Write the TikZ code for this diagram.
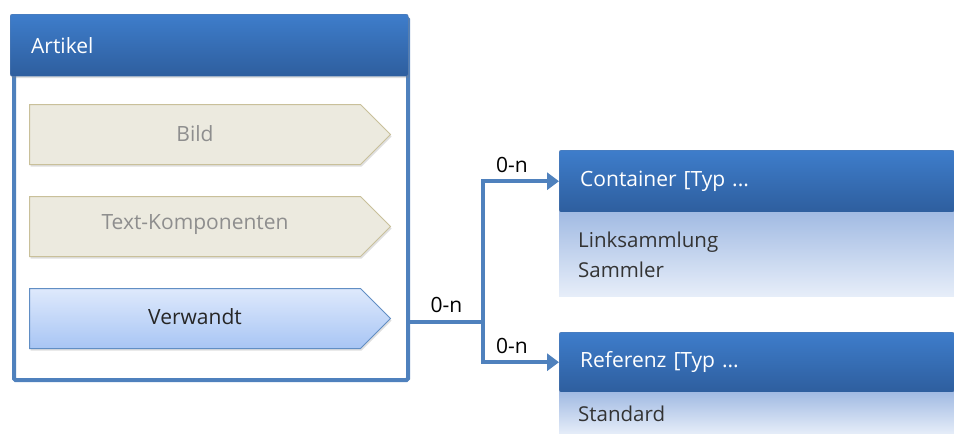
\documentclass[tikz,border=0pt]{standalone}
\usepackage{fontspec}
\setmainfont{Open Sans}
\usetikzlibrary{positioning,shapes.symbols,arrows.meta,shadows}

\definecolor{frameblue}{HTML}{4F81BD}
\definecolor{headtop}{HTML}{3E7DCB}
\definecolor{headbot}{HTML}{2E5E9E}
\definecolor{beigefill}{HTML}{ECEADF}
\definecolor{beigeline}{HTML}{C9C09A}
\definecolor{greytext}{HTML}{8E8E8E}
\definecolor{seltop}{HTML}{DEE9FC}
\definecolor{selbot}{HTML}{A8C5F4}
\definecolor{bodytop}{HTML}{A2BBE3}
\definecolor{bodybot}{HTML}{E7EEF9}

\begin{document}
\begin{tikzpicture}[
    x=1pt, y=-1pt,
    frame/.style={
        draw = frameblue,
        line width = 4pt,
        fill = white,
        rounded corners = 1.5pt,
        minimum width = 394pt,
        minimum height = 362pt,
        inner sep = 0pt
    },
    head/.style={
        draw = headbot!80,
        top color = headtop,
        bottom color = headbot,
        text = white,
        rounded corners = 2pt,
        minimum height = 62pt,
        inner xsep = 21pt,
        align = left,
        font = \fontsize{21}{24}\selectfont,
        drop shadow = {opacity=0.25, shadow xshift=1pt, shadow yshift=-2pt}
    },
    body/.style={
        top color = bodytop,
        bottom color = bodybot,
        text = black!80,
        inner xsep = 19pt,
        align = left,
        font = \fontsize{20.5}{30}\selectfont
    },
    part/.style={
        signal,
        signal to = east,
        signal pointer angle = 90,
        minimum width = 361pt,
        minimum height = 60pt,
        inner sep = 0pt,
        line width = 1pt,
        drop shadow = {opacity=0.25, shadow xshift=1pt, shadow yshift=-2pt}
    },
    idle/.style={
        part,
        draw = beigeline,
        fill = beigefill
    },
    chosen/.style={
        part,
        draw = frameblue!90,
        top color = seltop,
        bottom color = selbot
    },
    label/.style={
        font = \fontsize{21}{24}\selectfont,
        text = #1
    },
    conn/.style={
        draw = frameblue,
        line width = 4pt,
        -{Triangle[length=12pt, width=17pt]}
    },
    card/.style={
        font = \fontsize{21}{24}\selectfont,
        inner sep = 2pt
    }
    ]

\useasboundingbox (0,0) rectangle (954,434);

% Artikel
\node[frame, anchor=north west] (artikel) at (12,16) {};
\node[head, anchor=north west, minimum width=398pt, text width=356pt] (artikelhead) at (10,14) {Artikel};

\node[idle, anchor=north west] (bild) at (29,104) {};
\node[idle, below=31pt of bild] (textkomp) {};
\node[chosen, below=31pt of textkomp] (verwandt) {};
\node[label=greytext] (bildtext) at (195,134) {Bild};
\node[label=greytext] (tktext) at (195,225) {Text-Komponenten};
\node[label=black!85] (vwtext) at (195,317) {Verwandt};

% Container
\node[head, anchor=north west, minimum width=395pt, text width=353pt] (container) at (559,150) {Container [Typ ...};
\node[body, below=0pt of container, minimum width=395pt, minimum height=84pt, text width=357pt] (containerbody) {Linksammlung\\Sammler};

% Referenz
\node[head, anchor=north west, minimum width=395pt, minimum height=60pt, text width=353pt] (referenz) at (559,332) {Referenz [Typ ...};
\node[body, below=0pt of referenz, minimum width=395pt, minimum height=42pt, text width=357pt] (referenzbody) {Standard};

% connectors
\coordinate (split) at (483,322);
\draw[draw=frameblue, line width=4pt] (artikel.east |- split) -- node[card, above=5pt] {0-n} (split);
\draw[conn] (split) |- node[card, above=4pt, pos=0.69] {0-n} (container.west);
\draw[conn] (split) |- node[card, above=4pt, pos=0.69] {0-n} (referenz.west);
\end{tikzpicture}
\end{document}
